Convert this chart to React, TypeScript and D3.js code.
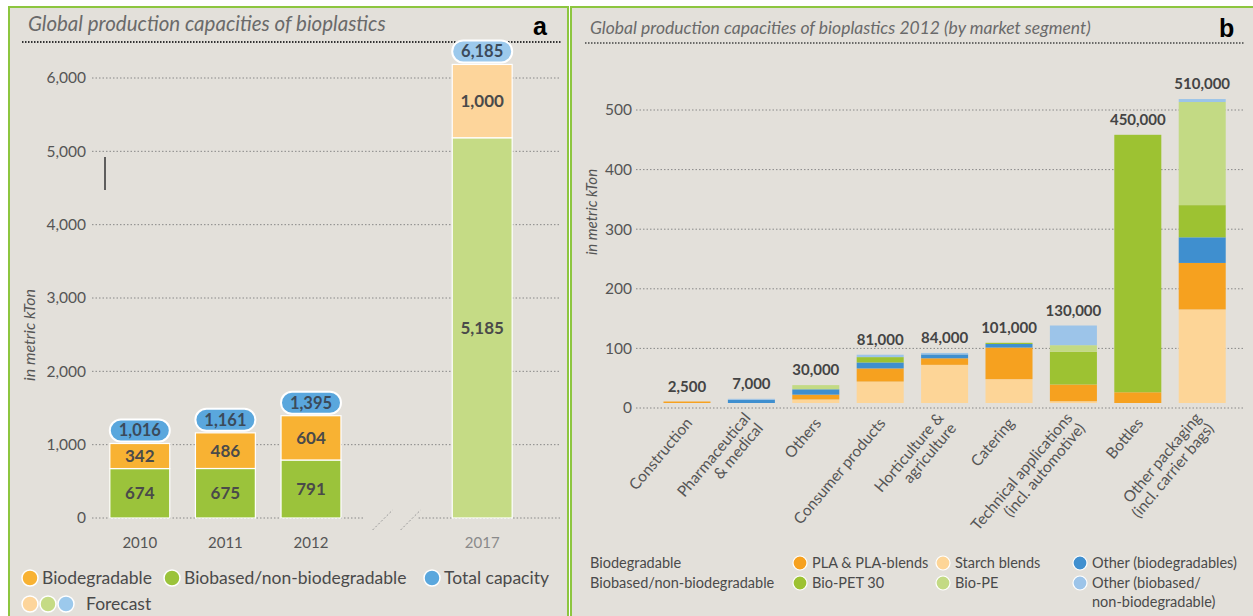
import React from 'react';
import * as d3 from 'd3';

const W = 1253;
const H = 616;
const FONT = 'Lato, "Open Sans", sans-serif';

// ---- panel a: global production capacities (kTon)
const yearsA = ['2010', '2011', '2012', '2017'];
const slotsA = ['2010', '2011', '2012', 'break', '2017'];
const biodegradableA = [342, 486, 604, 1000];
const biobasedA = [674, 675, 791, 5185];
const totalA = [1016, 1161, 1395, 6185];
const forecastA = [false, false, false, true];
const ticksA = [0, 1000, 2000, 3000, 4000, 5000, 6000];

// ---- panel b: 2012 by market segment (kTon)
const segmentsB = [
  ['Construction'],
  ['Pharmaceutical', '& medical'],
  ['Others'],
  ['Consumer products'],
  ['Horticulture &', 'agriculture'],
  ['Catering'],
  ['Technical applications', '(incl. automotive)'],
  ['Bottles'],
  ['Other packaging', '(incl. carrier bags)'],
];
const starchB = [0, 0, 6, 36, 64, 40, 3, 0, 157];
const plaB = [2.5, 0, 8, 22, 11, 53, 28, 18, 78];
const otherBioB = [0, 5.5, 9, 10, 6.5, 6, 0, 0, 43];
const bioPetB = [0, 0, 0, 9, 0, 2, 55, 432, 54];
const bioPeB = [0, 0, 7, 0, 0, 0, 11, 0, 173];
const otherBiobasedB = [0, 1.5, 0, 4, 2.5, 0, 33, 0, 5];
const ticksB = [0, 100, 200, 300, 400, 500];

const keysB = ['starch', 'pla', 'otherBio', 'bioPet', 'bioPe', 'otherBiobased'];
const colorB: Record<string, string> = {
  starch: '#fdd597',
  pla: '#f6a11f',
  otherBio: '#3f8fcf',
  bioPet: '#9dc232',
  bioPe: '#c3da84',
  otherBiobased: '#9cc4e9',
};

const colA = { bio: '#f8b233', based: '#9bc33b', total: '#5aa7dd' };
const colAF = { bio: '#fdd59b', based: '#c5db85', total: '#9cc9ec' };

const fmt = d3.format(',');

const PanelA: React.FC = () => {
  const x = d3.scaleBand<string>().domain(slotsA).range([97, 525]).paddingInner(0.3).paddingOuter(0.15);
  const y = d3.scaleLinear().domain([0, 6000]).range([518, 78]);
  const rows = yearsA.map((yr, i) => ({ yr, biobased: biobasedA[i], biodeg: biodegradableA[i] }));
  const stack = d3.stack<any>().keys(['biobased', 'biodeg'])(rows);
  const bw = x.bandwidth();
  const brk = (x('break') as number) + bw / 2;

  return (
    <g>
      <rect x={9} y={7} width={559} height={H} fill="#e3e0da" stroke="#8dc63f" strokeWidth={2} />
      <text x={28} y={31} fontFamily={FONT} fontStyle="italic" fontSize={20.5} fill="#6a6a6a">
        Global production capacities of bioplastics
      </text>
      <text x={533} y={35} fontFamily='"Liberation Sans", Arial, sans-serif' fontWeight="bold" fontSize={25} fill="#000">
        a
      </text>
      <line x1={22} x2={562} y1={42} y2={42} stroke="#333" strokeWidth={2} strokeDasharray="1.5 1.5" />

      {ticksA.map(t =>
        t === 0 ? (
          <g key={t}>
            <line x1={92} x2={brk - 32} y1={y(t)} y2={y(t)} stroke="#888" strokeDasharray="1.5 2" />
            <line x1={brk + 22} x2={560} y1={y(t)} y2={y(t)} stroke="#888" strokeDasharray="1.5 2" />
          </g>
        ) : (
          <line key={t} x1={92} x2={560} y1={y(t)} y2={y(t)} stroke="#888" strokeDasharray="1.5 2" />
        )
      )}
      {ticksA.map(t => (
        <text key={'l' + t} x={86} y={y(t)} dy="0.35em" textAnchor="end" fontFamily={FONT} fontSize={15.5} fill="#555">
          {fmt(t)}
        </text>
      ))}
      {[-14, 14].map(o => (
        <line key={o} x1={brk + o - 10} x2={brk + o + 10} y1={530} y2={510} stroke="#999" strokeDasharray="2 2" />
      ))}
      <line x1={105} x2={105} y1={157} y2={190} stroke="#333" strokeWidth={1.5} />

      <text
        transform={`translate(35,335) rotate(-90)`}
        textAnchor="middle"
        fontFamily={FONT}
        fontStyle="italic"
        fontSize={16}
        fill="#555"
      >
        in metric kTon
      </text>

      {stack.map(layer =>
        layer.map((d, i) => {
          const f = forecastA[i];
          const isBio = layer.key === 'biodeg';
          const fill = isBio ? (f ? colAF.bio : colA.bio) : f ? colAF.based : colA.based;
          const x0 = x(yearsA[i]) as number;
          const y0 = y(d[1]);
          const h = y(d[0]) - y(d[1]);
          const v = d[1] - d[0];
          return (
            <g key={layer.key + i}>
              <rect x={x0} y={y0} width={bw} height={h} fill={fill} stroke="#fff" strokeWidth={1.2} />
              <text
                x={x0 + bw / 2}
                y={y0 + h / 2}
                dy="0.35em"
                textAnchor="middle"
                fontFamily={FONT}
                fontWeight="bold"
                fontSize={17}
                fill="#4a4a4a"
              >
                {fmt(v)}
              </text>
            </g>
          );
        })
      )}

      {totalA.map((t, i) => {
        const cx = (x(yearsA[i]) as number) + bw / 2;
        const cy = y(t) - 13;
        return (
          <g key={'p' + i}>
            <rect
              x={cx - 30}
              y={cy - 11}
              width={60}
              height={22}
              rx={11}
              fill={forecastA[i] ? colAF.total : colA.total}
              stroke="#fff"
              strokeWidth={2}
            />
            <text x={cx} y={cy} dy="0.36em" textAnchor="middle" fontFamily={FONT} fontWeight="bold" fontSize={16.5} fill="#3b4a5a">
              {fmt(t)}
            </text>
          </g>
        );
      })}

      {yearsA.map((yr, i) => (
        <text
          key={'y' + yr}
          x={(x(yr) as number) + bw / 2}
          y={543}
          dy="0.35em"
          textAnchor="middle"
          fontFamily={FONT}
          fontSize={15}
          fill={forecastA[i] ? '#8a8a8a' : '#555'}
        >
          {yr}
        </text>
      ))}

      {/* legend */}
      {[
        { c: colA.bio, label: 'Biodegradable', x: 30 },
        { c: colA.based, label: 'Biobased/non-biodegradable', x: 172 },
        { c: colA.total, label: 'Total capacity', x: 432 },
      ].map(l => (
        <g key={l.label}>
          <circle cx={l.x} cy={578} r={8} fill={l.c} stroke="#fff" strokeWidth={1.5} />
          <text x={l.x + 12} y={578} dy="0.35em" fontFamily={FONT} fontSize={17.5} fill="#4a4a4a">
            {l.label}
          </text>
        </g>
      ))}
      {[colAF.bio, colAF.based, colAF.total].map((c, i) => (
        <circle key={c} cx={30 + i * 18} cy={604} r={8} fill={c} stroke="#fff" strokeWidth={1.5} />
      ))}
      <text x={86} y={604} dy="0.35em" fontFamily={FONT} fontSize={17.5} fill="#4a4a4a">
        Forecast
      </text>
    </g>
  );
};

const PanelB: React.FC = () => {
  const names = segmentsB.map(s => s.join(' '));
  const x = d3.scaleBand<string>().domain(names).range([650.6, 1238.6]).paddingInner(0.27).paddingOuter(0.2);
  const y = d3.scaleLinear().domain([0, 500]).range([403, 105]);
  const rows = names.map((n, i) => ({
    n,
    starch: starchB[i],
    pla: plaB[i],
    otherBio: otherBioB[i],
    bioPet: bioPetB[i],
    bioPe: bioPeB[i],
    otherBiobased: otherBiobasedB[i],
  }));
  const stack = d3.stack<any>().keys(keysB)(rows);
  const totals = rows.map(r => keysB.reduce((s, k) => s + r[k], 0));
  const bw = x.bandwidth();

  return (
    <g>
      <rect x={571} y={7} width={700} height={H} fill="#e3e0da" stroke="#8dc63f" strokeWidth={2} />
      <text x={590} y={34} fontFamily={FONT} fontStyle="italic" fontSize={17.5} fill="#6a6a6a">
        Global production capacities of bioplastics 2012 (by market segment)
      </text>
      <text x={1219} y={37} fontFamily='"Liberation Sans", Arial, sans-serif' fontWeight="bold" fontSize={25} fill="#000">
        b
      </text>
      <line x1={585} x2={1245} y1={43} y2={43} stroke="#444" strokeWidth={1.5} strokeDasharray="1.5 1.5" />

      {ticksB.map(t => (
        <g key={t}>
          <line x1={636} x2={1245} y1={y(t) + 5} y2={y(t) + 5} stroke="#888" strokeDasharray="1.5 2" />
          <text x={632} y={y(t) + 5} dy="0.35em" textAnchor="end" fontFamily={FONT} fontSize={15.5} fill="#555">
            {t}
          </text>
        </g>
      ))}

      <text
        transform="translate(597,212) rotate(-90)"
        textAnchor="middle"
        fontFamily={FONT}
        fontStyle="italic"
        fontSize={15}
        fill="#555"
      >
        in metric kTon
      </text>

      {stack.map(layer =>
        layer.map((d, i) =>
          d[1] - d[0] > 0 ? (
            <rect
              key={layer.key + i}
              x={x(names[i]) as number}
              y={y(d[1])}
              width={bw}
              height={y(d[0]) - y(d[1])}
              fill={colorB[layer.key]}
            />
          ) : null
        )
      )}

      {totals.map((t, i) => (
        <text
          key={'t' + i}
          x={(x(names[i]) as number) + bw / 2}
          y={y(t) - 10}
          textAnchor="middle"
          fontFamily={FONT}
          fontWeight="bold"
          fontSize={15}
          fill="#444"
        >
          {fmt(Math.round(t * 1000))}
        </text>
      ))}

      {segmentsB.map((lines, i) => {
        const cx = (x(names[i]) as number) + bw / 2;
        return (
          <text
            key={'x' + i}
            transform={`translate(${cx + 2},420) rotate(-50)`}
            textAnchor="end"
            fontFamily={FONT}
            fontSize={15.5}
            fill="#555"
          >
            {lines.map((ln, j) => (
              <tspan key={j} x={0} dy={j === 0 ? `${0.35 - ((lines.length - 1) / 2) * 1.05}em` : '1.05em'}>
                {ln}
              </tspan>
            ))}
          </text>
        );
      })}

      {/* legend */}
      <text x={590} y={563} dy="0.35em" fontFamily={FONT} fontSize={14.5} fill="#4a4a4a">
        Biodegradable
      </text>
      <text x={590} y={583} dy="0.35em" fontFamily={FONT} fontSize={14.5} fill="#4a4a4a">
        Biobased/non-biodegradable
      </text>
      {[
        { k: 'pla', label: 'PLA & PLA-blends', x: 800, y: 563 },
        { k: 'starch', label: 'Starch blends', x: 943, y: 563 },
        { k: 'otherBio', label: 'Other (biodegradables)', x: 1080, y: 563 },
        { k: 'bioPet', label: 'Bio-PET 30', x: 800, y: 583 },
        { k: 'bioPe', label: 'Bio-PE', x: 943, y: 583 },
        { k: 'otherBiobased', label: 'Other (biobased/', x: 1080, y: 583 },
      ].map(l => (
        <g key={l.k}>
          <circle cx={l.x} cy={l.y} r={7} fill={colorB[l.k]} stroke="#fff" strokeWidth={1.2} />
          <text x={l.x + 12} y={l.y} dy="0.35em" fontFamily={FONT} fontSize={14.5} fill="#4a4a4a">
            {l.label}
          </text>
        </g>
      ))}
      <text x={1092} y={602} dy="0.35em" fontFamily={FONT} fontSize={14.5} fill="#4a4a4a">
        non-biodegradable)
      </text>
    </g>
  );
};

const App: React.FC = () => (
  <svg
    width={W}
    height={H}
    viewBox={`0 0 ${W} ${H}`}
    style={{ position: 'absolute', left: 0, top: 0, display: 'block', background: '#fff' }}
  >
    <PanelA />
    <PanelB />
  </svg>
);

export default App;
